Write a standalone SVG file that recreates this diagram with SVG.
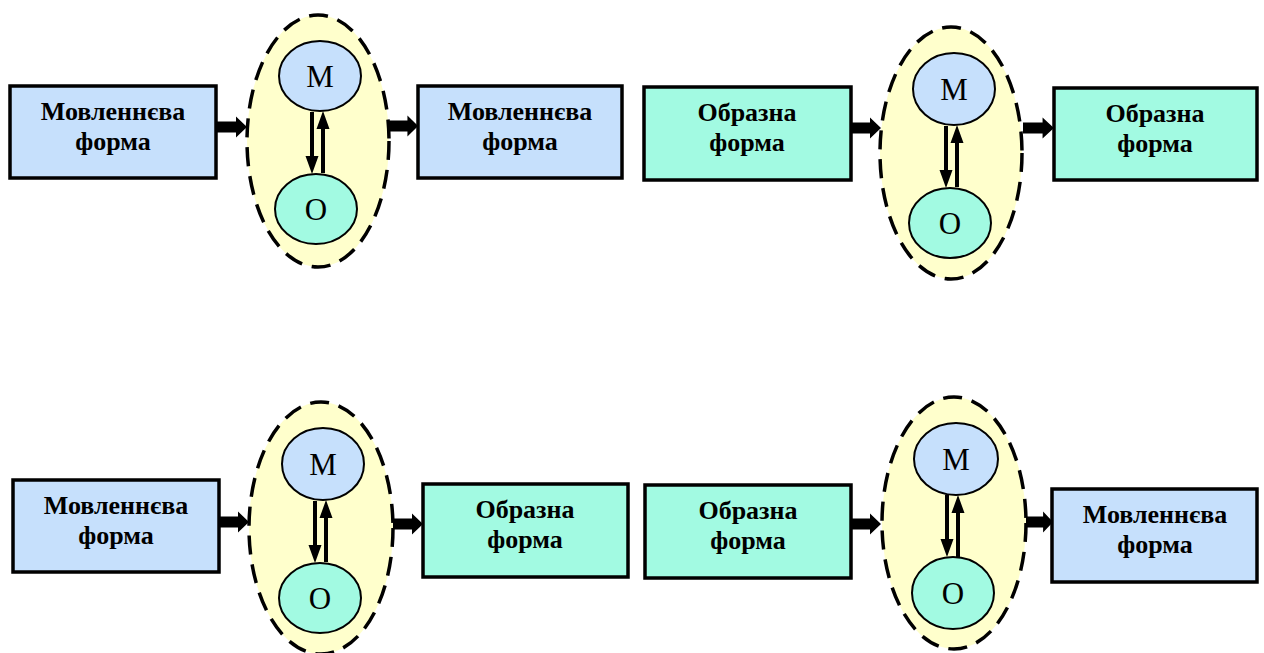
<svg xmlns="http://www.w3.org/2000/svg" width="1264" height="653" viewBox="0 0 1264 653">
  <defs>
    <style>
      .box { stroke: #000; stroke-width: 3.5; }
      .blue { fill: #C6E0FC; }
      .green { fill: #A2FAE2; }
      .oval { fill: #FFFFCC; stroke: #000; stroke-width: 3.5; stroke-dasharray: 19 10; }
      .inner { stroke: #000; stroke-width: 2; }
      .lbl { font-family: "Liberation Serif", "Times New Roman", serif; font-weight: bold; font-size: 26px; text-anchor: middle; fill: #000; }
      .ltr { font-family: "Liberation Serif", "Times New Roman", serif; font-size: 31px; text-anchor: middle; fill: #000; }
      .block { fill: #000; }
      .stem { fill: #000; }
    </style>
    <!-- thick block arrow pointing right, origin at the tail, length 30 -->
    <path id="fat" d="M0,-5.5 H19 V-10.5 L30,0 L19,10.5 V5.5 H0 z"/>
    <!-- thin arrow pointing down, origin at the tip, 62 long -->
    <path id="down" d="M-2,-62 H2 V-18 H6.5 L0,0 L-6.5,-18 H-2 z"/>
  </defs>

  <!-- top left panel -->
  <g id="n1">
    <rect class="box blue" x="10" y="86" width="206" height="92"/>
    <text class="lbl" x="113" y="120">Мовленнєва</text>
    <text class="lbl" x="113" y="150">форма</text>
  </g>
  <g id="n2">
    <ellipse class="oval" cx="318" cy="141" rx="71" ry="126"/>
    <ellipse class="inner blue" cx="320" cy="76" rx="41" ry="35"/>
    <text class="ltr" x="320" y="87">М</text>
    <ellipse class="inner green" cx="316" cy="209" rx="41" ry="35"/>
    <text class="ltr" x="316" y="220">О</text>
  </g>
  <g id="n3">
    <rect class="box blue" x="418" y="86" width="204" height="92"/>
    <text class="lbl" x="520" y="120">Мовленнєва</text>
    <text class="lbl" x="520" y="150">форма</text>
  </g>

  <!-- top right panel -->
  <g id="n4">
    <rect class="box green" x="644" y="87" width="207" height="93"/>
    <text class="lbl" x="747" y="121">Образна</text>
    <text class="lbl" x="747" y="151">форма</text>
  </g>
  <g id="n5">
    <ellipse class="oval" cx="951" cy="153" rx="71" ry="126"/>
    <ellipse class="inner blue" cx="954" cy="89" rx="41" ry="36"/>
    <text class="ltr" x="954" y="100">М</text>
    <ellipse class="inner green" cx="950" cy="223" rx="41" ry="35"/>
    <text class="ltr" x="950" y="234">О</text>
  </g>
  <g id="n6">
    <rect class="box green" x="1054" y="88" width="203" height="92"/>
    <text class="lbl" x="1155" y="122">Образна</text>
    <text class="lbl" x="1155" y="152">форма</text>
  </g>

  <!-- bottom left panel -->
  <g id="n7">
    <rect class="box blue" x="13" y="480" width="206" height="92"/>
    <text class="lbl" x="116" y="514">Мовленнєва</text>
    <text class="lbl" x="116" y="544">форма</text>
  </g>
  <g id="n8">
    <ellipse class="oval" cx="321" cy="528" rx="72" ry="126"/>
    <ellipse class="inner blue" cx="323" cy="464" rx="41" ry="36"/>
    <text class="ltr" x="323" y="475">М</text>
    <ellipse class="inner green" cx="320" cy="598" rx="41" ry="35"/>
    <text class="ltr" x="320" y="609">О</text>
  </g>
  <g id="n9">
    <rect class="box green" x="423" y="484" width="205" height="93"/>
    <text class="lbl" x="525" y="518">Образна</text>
    <text class="lbl" x="525" y="548">форма</text>
  </g>

  <!-- bottom right panel -->
  <g id="n10">
    <rect class="box green" x="645" y="485" width="206" height="93"/>
    <text class="lbl" x="748" y="519">Образна</text>
    <text class="lbl" x="748" y="549">форма</text>
  </g>
  <g id="n11">
    <ellipse class="oval" cx="954" cy="523" rx="72" ry="126"/>
    <ellipse class="inner blue" cx="956" cy="459" rx="42" ry="36"/>
    <text class="ltr" x="956" y="470">М</text>
    <ellipse class="inner green" cx="953" cy="593" rx="41" ry="36"/>
    <text class="ltr" x="953" y="604">О</text>
  </g>
  <g id="n12">
    <rect class="box blue" x="1052" y="489" width="205" height="93"/>
    <text class="lbl" x="1155" y="523">Мовленнєва</text>
    <text class="lbl" x="1155" y="553">форма</text>
  </g>

  <g id="connectors">
    <!-- block arrows between boxes and ovals -->
    <use class="block" href="#fat" transform="translate(217,127)"/>
    <use class="block" href="#fat" transform="translate(389,126) scale(0.97,1)"/>
    <use class="block" href="#fat" transform="translate(851,128)"/>
    <use class="block" href="#fat" transform="translate(1023,128) scale(1.03,1)"/>
    <use class="block" href="#fat" transform="translate(219,522)"/>
    <use class="block" href="#fat" transform="translate(393,524)"/>
    <use class="block" href="#fat" transform="translate(851,524)"/>
    <use class="block" href="#fat" transform="translate(1026,522) scale(0.9,1)"/>

    <!-- M/O exchange arrows: down into О, up into М -->
    <use class="stem" href="#down" transform="translate(312,174)"/>
    <use class="stem" href="#down" transform="translate(323,111) rotate(180)"/>
    <use class="stem" href="#down" transform="translate(946,188)"/>
    <use class="stem" href="#down" transform="translate(957,125) rotate(180)"/>
    <use class="stem" href="#down" transform="translate(315,563)"/>
    <use class="stem" href="#down" transform="translate(326,500) rotate(180)"/>
    <use class="stem" href="#down" transform="translate(947,557)"/>
    <use class="stem" href="#down" transform="translate(958,495) rotate(180)"/>
  </g>
</svg>
